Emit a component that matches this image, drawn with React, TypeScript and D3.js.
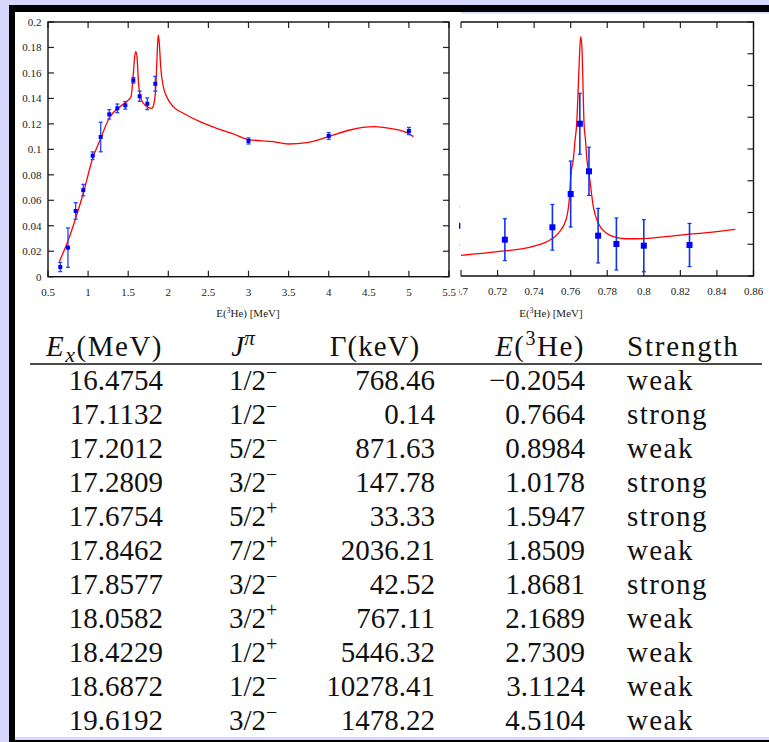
import React from 'react';
import * as d3 from 'd3';

// left panel: measured points (E in MeV, value, error)
const leftE = [0.653, 0.749, 0.845, 0.94, 1.057, 1.157, 1.264, 1.364, 1.464, 1.564, 1.643, 1.738, 1.838, 3.0, 4.0, 5.0];
const leftS = [0.0076, 0.0228, 0.0516, 0.068, 0.095, 0.1097, 0.1275, 0.1322, 0.1346, 0.1542, 0.1417, 0.1358, 0.1515, 0.1066, 0.1105, 0.1144];
const leftErr = [0.0036, 0.0155, 0.0065, 0.0045, 0.003, 0.0116, 0.0037, 0.0034, 0.003, 0.0022, 0.004, 0.0046, 0.0058, 0.0024, 0.0027, 0.0028];

// left panel: fitted curve
const leftFitE = [0.641, 0.753, 0.845, 0.94, 1.057, 1.148, 1.273, 1.398, 1.501, 1.535, 1.564, 1.581, 1.594, 1.61, 1.626, 1.647, 1.688, 1.751, 1.793, 1.822, 1.847, 1.863, 1.875, 1.888, 1.905, 1.938, 1.98, 2.062, 2.187, 2.395, 2.603, 2.81, 2.997, 3.309, 3.496, 3.726, 4.0, 4.266, 4.556, 4.764, 4.973, 5.055];
const leftFitS = [0.0118, 0.0288, 0.0459, 0.0655, 0.093, 0.1073, 0.1256, 0.1335, 0.1387, 0.1413, 0.1597, 0.1728, 0.1767, 0.1728, 0.1545, 0.1427, 0.1362, 0.133, 0.1322, 0.1362, 0.1519, 0.178, 0.1898, 0.1833, 0.1649, 0.1492, 0.1413, 0.1335, 0.1283, 0.1217, 0.1165, 0.1121, 0.1077, 0.106, 0.1042, 0.1052, 0.11, 0.1152, 0.1178, 0.1165, 0.1131, 0.11];

// right panel (zoom on the 0.7664 MeV resonance)
const rightE = [0.698, 0.724, 0.75, 0.76, 0.765, 0.77, 0.775, 0.785, 0.8, 0.825];
const rightS = [0.79, 0.572, 0.767, 1.291, 2.398, 1.649, 0.635, 0.504, 0.477, 0.488];
const rightErr = [0.3, 0.33, 0.36, 0.52, 0.48, 0.38, 0.43, 0.41, 0.41, 0.34];

const rightFitE = [0.7, 0.72, 0.74, 0.7487, 0.7532, 0.7574, 0.7592, 0.7602, 0.7614, 0.7624, 0.7633, 0.7643, 0.7651, 0.7655, 0.7662, 0.7673, 0.7681, 0.7689, 0.77, 0.7724, 0.7751, 0.7797, 0.7833, 0.79, 0.8, 0.82, 0.84, 0.85];
const rightFitS = [0.326, 0.383, 0.472, 0.567, 0.672, 0.882, 1.197, 1.617, 1.827, 2.142, 2.398, 3.09, 3.64, 3.77, 3.56, 2.4, 2.142, 1.827, 1.617, 1.09, 0.83, 0.672, 0.619, 0.587, 0.59, 0.645, 0.7, 0.735];

// tick labels
const leftXTicks = ['0.5', '1', '1.5', '2', '2.5', '3', '3.5', '4', '4.5', '5', '5.5'];
const leftYTicks = ['0', '0.02', '0.04', '0.06', '0.08', '0.1', '0.12', '0.14', '0.16', '0.18', '0.2'];
const rightXTicks = ['0.7', '0.72', '0.74', '0.76', '0.78', '0.8', '0.82', '0.84', '0.86'];
const rightYTicks = [0, 0.5, 1, 1.5, 2, 2.5, 3, 3.5, 4];

// table of levels
const levelEx = [16.4754, 17.1132, 17.2012, 17.2809, 17.6754, 17.8462, 17.8577, 18.0582, 18.4229, 18.6872, 19.6192];
const levelSpin = ['1/2', '1/2', '5/2', '3/2', '5/2', '7/2', '3/2', '3/2', '1/2', '1/2', '3/2'];
const levelParity = ['\u2212', '\u2212', '\u2212', '\u2212', '+', '+', '\u2212', '+', '+', '\u2212', '\u2212'];
const levelWidth = [768.46, 0.14, 871.63, 147.78, 33.33, 2036.21, 42.52, 767.11, 5446.32, 10278.41, 1478.22];
const levelE3He = [-0.2054, 0.7664, 0.8984, 1.0178, 1.5947, 1.8509, 1.8681, 2.1689, 2.7309, 3.1124, 4.5104];
const levelStrength = ['weak', 'strong', 'weak', 'strong', 'strong', 'weak', 'strong', 'weak', 'weak', 'weak', 'weak'];

const LAV = '#d7d7fc';
const serif = '"Liberation Serif", "Times New Roman", serif';
const tick = 6;

function AxisLabel({ x, y }: { x: number; y: number }) {
  return (
    <text x={x} y={y} textAnchor="middle" fontFamily={serif} fontSize={11} fill="#222">
      E(<tspan fontSize={7.5} dy={-4}>3</tspan><tspan dy={4}>He) [MeV]</tspan>
    </text>
  );
}

function LeftChart() {
  const x = d3.scaleLinear().domain([0.5, 5.5]).range([48, 449]);
  const y = d3.scaleLinear().domain([0, 0.2]).range([276.7, 22]);
  const line = d3.line<number>().x((d, i) => x(leftFitE[i])).y(d => y(d)).curve(d3.curveMonotoneX);
  const [x0, x1] = x.range();
  const [y0, y1] = y.range();
  return (
    <g>
      {leftXTicks.map(t => {
        const px = x(+t);
        return (
          <g key={t}>
            <line x1={px} x2={px} y1={y0} y2={y0 - tick} stroke="#222" strokeWidth={1.2} />
            <line x1={px} x2={px} y1={y1} y2={y1 + tick} stroke="#222" strokeWidth={1.2} />
            <text x={px} y={y0 + 19} textAnchor="middle" fontFamily={serif} fontSize={11} fill="#222">{t}</text>
          </g>
        );
      })}
      {leftYTicks.map(t => {
        const py = y(+t);
        return (
          <g key={t}>
            <line x1={x0} x2={x0 + tick} y1={py} y2={py} stroke="#222" strokeWidth={1.2} />
            <line x1={x1} x2={x1 - tick} y1={py} y2={py} stroke="#222" strokeWidth={1.2} />
            <text x={x0 - 6.5} y={py + 4} textAnchor="end" fontFamily={serif} fontSize={11} fill="#222">{t}</text>
          </g>
        );
      })}
      <rect x={x0} y={y1} width={x1 - x0} height={y0 - y1} fill="none" stroke="#111" strokeWidth={1.4} />
      <path d={line(leftFitS) || ''} fill="none" stroke="#ff0000" strokeWidth={1.3} />
      {leftE.map((e, i) => {
        const px = x(e);
        const lo = y(leftS[i] - leftErr[i]);
        const hi = y(leftS[i] + leftErr[i]);
        return (
          <g key={i} stroke="#2244ff" strokeWidth={1.3}>
            <line x1={px} x2={px} y1={lo} y2={hi} />
            <line x1={px - 2} x2={px + 2} y1={lo} y2={lo} />
            <line x1={px - 2} x2={px + 2} y1={hi} y2={hi} />
            <rect x={px - 2} y={y(leftS[i]) - 2} width={4} height={4} fill="#0000ff" stroke="none" />
          </g>
        );
      })}
      <AxisLabel x={248} y={317} />
    </g>
  );
}

function RightChart() {
  const x = d3.scaleLinear().domain([0.7, 0.86]).range([461, 753.5]);
  const y = d3.scaleLinear().domain([0, 4]).range([276, 22]);
  const line = d3.line<number>().x((d, i) => x(rightFitE[i])).y(d => y(d)).curve(d3.curveMonotoneX);
  const [x0, x1] = x.range();
  const [y0, y1] = y.range();
  return (
    <g clipPath="url(#rclip)">
      {rightXTicks.map(t => {
        const px = x(+t);
        return (
          <g key={t}>
            <line x1={px} x2={px} y1={y0} y2={y0 - tick} stroke="#222" strokeWidth={1.2} />
            <line x1={px} x2={px} y1={y1} y2={y1 + tick} stroke="#222" strokeWidth={1.2} />
            <text x={px} y={y0 + 19} textAnchor="middle" fontFamily={serif} fontSize={11} fill="#222">{t}</text>
          </g>
        );
      })}
      {rightYTicks.map(t => (
        <line key={t} x1={x1} x2={x1 - tick} y1={y(t)} y2={y(t)} stroke="#222" strokeWidth={1.2} />
      ))}
      <path d={`M${x0},${y1}H${x1}V${y0}H${x0}`} fill="none" stroke="#111" strokeWidth={1.4} />
      <path d={line(rightFitS) || ''} fill="none" stroke="#ff0000" strokeWidth={1.3} />
      {rightE.map((e, i) => {
        const px = x(e);
        const lo = y(rightS[i] - rightErr[i]);
        const hi = y(rightS[i] + rightErr[i]);
        return (
          <g key={i} stroke="#1133ee" strokeWidth={1.6}>
            <line x1={px} x2={px} y1={lo} y2={hi} />
            <line x1={px - 2} x2={px + 2} y1={lo} y2={lo} strokeWidth={1.2} />
            <line x1={px - 2} x2={px + 2} y1={hi} y2={hi} strokeWidth={1.2} />
            <rect x={px - 3} y={y(rightS[i]) - 3} width={6} height={6} fill="#0000ff" stroke="none" />
          </g>
        );
      })}
      <AxisLabel x={551} y={317} />
    </g>
  );
}

function Table() {
  const fs = 29;
  const rowY = (i: number) => 390 + i * 34;
  const f4 = d3.format('.4f');
  const f2 = d3.format('.2f');
  const txt = { fontFamily: serif, fontSize: fs, fill: '#111' };
  return (
    <g>
      <text x={163} y={356} textAnchor="end" letterSpacing={1.5} {...txt}>
        <tspan fontStyle="italic">E</tspan>
        <tspan fontStyle="italic" fontSize={22} dy={6}>x</tspan>
        <tspan dy={-6}>(MeV)</tspan>
      </text>
      <text x={243} y={356} textAnchor="middle" {...txt}>
        <tspan fontStyle="italic">J</tspan>
        <tspan fontStyle="italic" fontSize={21} dy={-11}>{'\u03c0'}</tspan>
      </text>
      <text x={375} y={356} textAnchor="middle" letterSpacing={1} {...txt}>{'\u0393(keV)'}</text>
      <text x={585} y={356} textAnchor="end" letterSpacing={1.5} {...txt}>
        <tspan fontStyle="italic">E</tspan>
        <tspan>(</tspan>
        <tspan fontSize={20} dy={-11}>3</tspan>
        <tspan dy={11}>He)</tspan>
      </text>
      <text x={627} y={356} letterSpacing={1.8} {...txt}>Strength</text>
      <line x1={30} x2={762} y1={364} y2={364} stroke="#111" strokeWidth={1.3} />
      {levelEx.map((ex, i) => (
        <g key={i}>
          <text x={163} y={rowY(i)} textAnchor="end" {...txt}>{f4(ex)}</text>
          <text x={229} y={rowY(i)} {...txt}>
            {levelSpin[i]}
            <tspan fontSize={20} dy={-11}>{levelParity[i]}</tspan>
          </text>
          <text x={435} y={rowY(i)} textAnchor="end" {...txt}>{f2(levelWidth[i])}</text>
          <text x={585} y={rowY(i)} textAnchor="end" {...txt}>{f4(levelE3He[i])}</text>
          <text x={627} y={rowY(i)} letterSpacing={1.4} {...txt}>{levelStrength[i]}</text>
        </g>
      ))}
    </g>
  );
}

export default function App() {
  const W = 769;
  const H = 742;
  return (
    <svg width={W} height={H} style={{ position: 'absolute', left: 0, top: 0, display: 'block' }}>
      <defs>
        <clipPath id="rclip">
          <rect x={459} y={13} width={310} height={320} />
        </clipPath>
      </defs>
      <rect x={0} y={0} width={W} height={H} fill={LAV} />
      <rect x={9} y={5} width={W - 9} height={H - 5} fill="#000" />
      <rect x={15} y={12} width={W - 15} height={725} fill="#fff" />
      <rect x={15} y={737} width={W - 15} height={3} fill={LAV} />
      <rect x={461} y={12} width={W - 461} height={1.5} fill={LAV} />
      <RightChart />
      <LeftChart />
      <Table />
    </svg>
  );
}
